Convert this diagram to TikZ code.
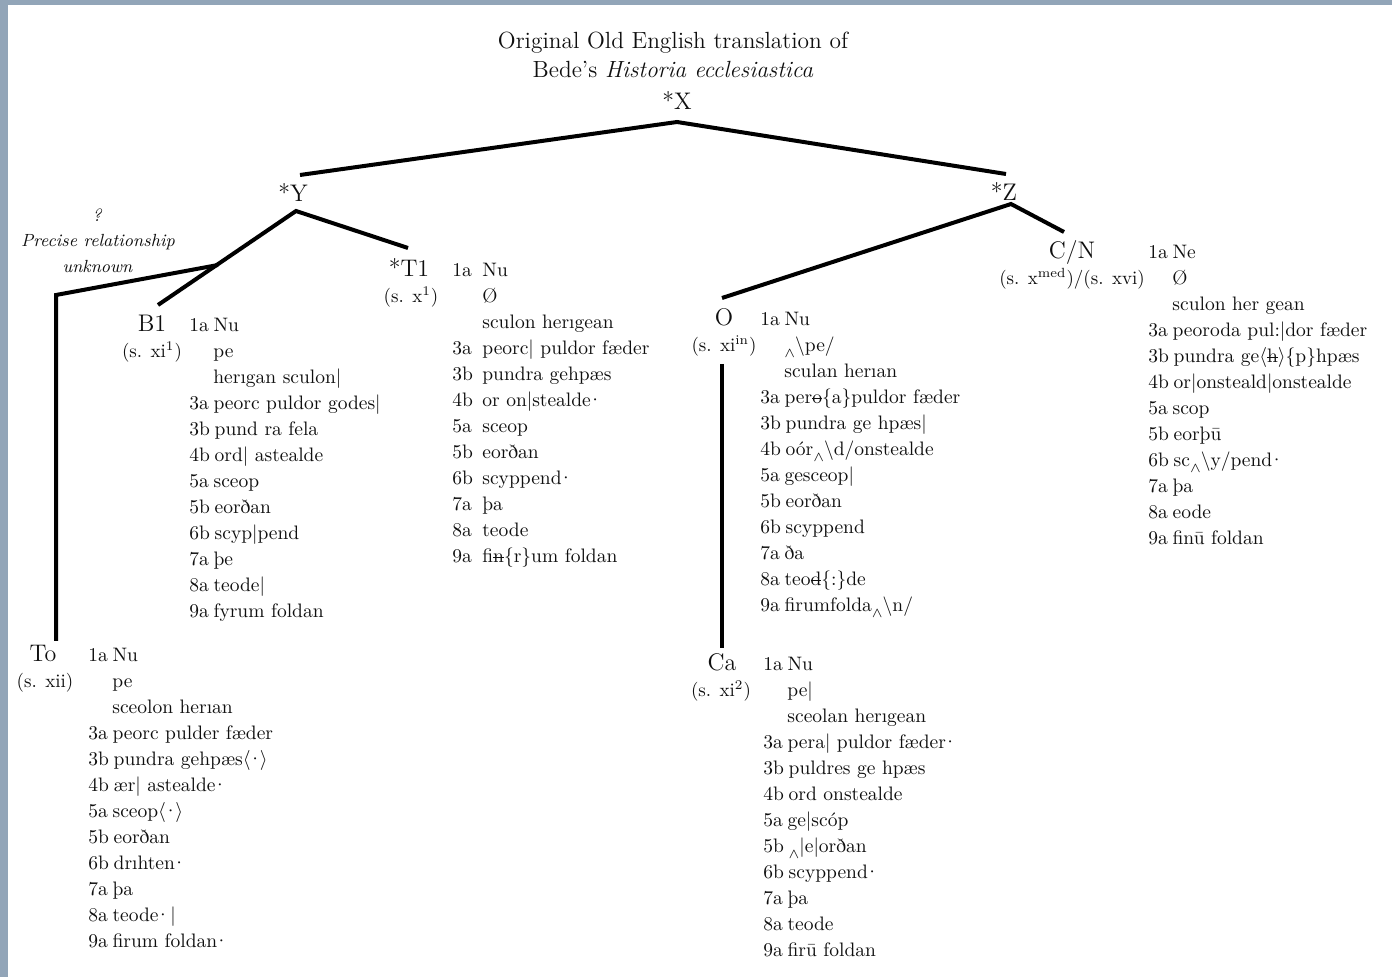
\documentclass[tikz,border=0pt]{standalone}
\usepackage{fontspec}
\definecolor{framegray}{RGB}{146,165,184}
\definecolor{ink}{RGB}{15,15,15}

% struck-out letter
\newsavebox\strkbox
\newcommand\strk[1]{\sbox\strkbox{#1}\rlap{\rule[0.55ex]{\wd\strkbox}{0.5pt}}\usebox\strkbox}
% insertion caret below the line
\newcommand\inscaret{\raisebox{-0.65ex}{$\scriptstyle\wedge$}}
% tight raised point
\newcommand\md{\kern-0.17em·}
% numbered verse line and indented continuation line
\newcommand\vl[2]{#1\hspace{0.24em}#2}
\newcommand\cont[1]{\hspace*{12pt}#1}
\newcommand\tvl[2]{\makebox[15pt][l]{#1}#2}
\newcommand\tcont[1]{\hspace*{15pt}#1}
\newcommand\dotbr{$\langle$\kern-0.15em·\kern-0.15em$\rangle$}

\tikzset{
  tree/.style={line width=2pt, draw=black},
  heading/.style={font=\fontsize{11.7}{14}\selectfont, anchor=base, inner sep=0pt, text=ink},
  siglum/.style={font=\fontsize{12}{14}\selectfont, anchor=base, inner sep=0pt, text=ink},
  datelbl/.style={font=\fontsize{9.5}{12}\selectfont, anchor=base, inner sep=0pt, text=ink},
  readings/.style={font=\fontsize{9.75}{13}\selectfont, anchor=base west, inner sep=0pt, text=ink},
  remark/.style={font=\fontsize{8.8}{13}\selectfont\itshape, anchor=base, inner sep=0pt, text=ink},
}

\begin{document}
\begin{tikzpicture}[x=0.5pt, y=-0.5pt]
\useasboundingbox (0,0) rectangle (1392,977);
\fill[white] (0,0) rectangle (1392,977);
\fill[framegray] (0,0) rectangle (1392,5);
\fill[framegray] (0,0) rectangle (8,977);

% heading and archetypes
\node[heading] (title1) at (673,49) {Original Old English translation of};
\node[heading] (title2) at (673,78) {Bede’s \textit{Historia ecclesiastica}};
\node[siglum] (X) at (677,110) {*X};
\node[siglum] (Y) at (293,202) {*Y};
\node[siglum] (Z) at (1004,201) {*Z};

% manuscripts
\node[siglum] (T1) at (409,277) {*T1};
\node[datelbl] (T1d) at (411,303) {(s. x\textsuperscript{1})};
\node[siglum] (B1) at (152,332) {B1};
\node[datelbl] (B1d) at (152,358) {(s. xi\textsuperscript{1})};
\node[siglum] (To) at (43,662) {To};
\node[datelbl] (Tod) at (45,688) {(s. xii)};
\node[siglum] (O) at (724,326) {O};
\node[datelbl] (Od) at (724,352) {(s. xi\textsuperscript{in})};
\node[siglum] (Ca) at (722,671) {Ca};
\node[datelbl] (Cad) at (721,697) {(s. xi\textsuperscript{2})};
\node[siglum] (CN) at (1072,259) {C/N};
\node[datelbl] (CNd) at (1072,285) {(s. x\textsuperscript{med})/(s. xvi)};

% uncertain filiation note
\node[remark] (q) at (97,222) {?};
\node[remark] (q1) at (98,247) {Precise relationship};
\node[remark] (q2) at (97.5,273) {unknown};

% junction points of the stemma
\coordinate (Xb) at (677,122);
\coordinate (Yt) at (300,175);
\coordinate (Zt) at (1006,174);
\coordinate (Yb) at (296,211);
\coordinate (B1t) at (158,305);
\coordinate (T1t) at (408,248);
\coordinate (Pj) at (218,265);
\coordinate (Toc) at (56,295);
\coordinate (Tot) at (56,641);
\coordinate (Zb) at (1011,204);
\coordinate (CNt) at (1064,232);
\coordinate (Ot) at (722,298);
\coordinate (Ob) at (722,364);
\coordinate (Cat) at (722,648);

\draw[tree] (Yt) -- (Xb) -- (Zt);
\draw[tree] (B1t) -- (Yb) -- (T1t);
\draw[tree, line join=miter] (Pj) -- (Toc) -- (Tot);
\draw[tree] (Ot) -- (Zb) -- (CNt);
\draw[tree] (Ob) -- (Cat);

% readings
\node[readings] (T1r) at (452,277) {\begin{tabular}[t]{@{}l@{}}
\tvl{1a}{Nu}\\
\tcont{Ø}\\
\tcont{sculon herıgean}\\
\tvl{3a}{peorc| puldor fæder}\\
\tvl{3b}{pundra gehpæs}\\
\tvl{4b}{or on|stealde\md}\\
\tvl{5a}{sceop}\\
\tvl{5b}{eorðan}\\
\tvl{6b}{scyppend\md}\\
\tvl{7a}{þa}\\
\tvl{8a}{teode}\\
\tvl{9a}{fi\strk{n}\{r\}um foldan}
\end{tabular}};

\node[readings] (B1r) at (189,332) {\begin{tabular}[t]{@{}l@{}}
\vl{1a}{Nu}\\
\cont{pe}\\
\cont{herıgan sculon|}\\
\vl{3a}{peorc puldor godes|}\\
\vl{3b}{pund ra fela}\\
\vl{4b}{ord| astealde}\\
\vl{5a}{sceop}\\
\vl{5b}{eorðan}\\
\vl{6b}{scyp|pend}\\
\vl{7a}{þe}\\
\vl{8a}{teode|}\\
\vl{9a}{fyrum foldan}
\end{tabular}};

\node[readings] (Tor) at (88,662) {\begin{tabular}[t]{@{}l@{}}
\vl{1a}{Nu}\\
\cont{pe}\\
\cont{sceolon herıan}\\
\vl{3a}{peorc pulder fæder}\\
\vl{3b}{pundra gehpæs\dotbr}\\
\vl{4b}{ær| astealde\md}\\
\vl{5a}{sceop\dotbr}\\
\vl{5b}{eorðan}\\
\vl{6b}{drıhten\md}\\
\vl{7a}{þa}\\
\vl{8a}{teode\md|}\\
\vl{9a}{firum foldan\md}
\end{tabular}};

\node[readings] (Or) at (760,326) {\begin{tabular}[t]{@{}l@{}}
\vl{1a}{Nu}\\
\cont{\inscaret\textbackslash pe/}\\
\cont{sculan herıan}\\
\vl{3a}{per\strk{o}\{a\}puldor fæder}\\
\vl{3b}{pundra ge hpæs|}\\
\vl{4b}{oór\inscaret\textbackslash d/onstealde}\\
\vl{5a}{gesceop|}\\
\vl{5b}{eorðan}\\
\vl{6b}{scyppend}\\
\vl{7a}{ða}\\
\vl{8a}{teo\strk{d}\{:\}de}\\
\vl{9a}{firumfolda\inscaret\textbackslash n/}
\end{tabular}};

\node[readings] (Car) at (763,671) {\begin{tabular}[t]{@{}l@{}}
\vl{1a}{Nu}\\
\cont{pe|}\\
\cont{sceolan herıgean}\\
\vl{3a}{pera| puldor fæder\md}\\
\vl{3b}{puldres ge hpæs}\\
\vl{4b}{ord onstealde}\\
\vl{5a}{ge|scóp}\\
\vl{5b}{\inscaret|e|orðan}\\
\vl{6b}{scyppend\md}\\
\vl{7a}{þa}\\
\vl{8a}{teode}\\
\vl{9a}{firū foldan}
\end{tabular}};

\node[readings] (CNr) at (1148,259) {\begin{tabular}[t]{@{}l@{}}
\vl{1a}{Ne}\\
\cont{Ø}\\
\cont{sculon her gean}\\
\vl{3a}{peoroda pul:|dor fæder}\\
\vl{3b}{pundra ge$\langle$\strk{h}$\rangle$\{p\}hpæs}\\
\vl{4b}{or|onsteald|onstealde}\\
\vl{5a}{scop}\\
\vl{5b}{eorþū}\\
\vl{6b}{sc\inscaret\textbackslash y/pend\md}\\
\vl{7a}{þa}\\
\vl{8a}{eode}\\
\vl{9a}{finū foldan}
\end{tabular}};
\end{tikzpicture}
\end{document}
